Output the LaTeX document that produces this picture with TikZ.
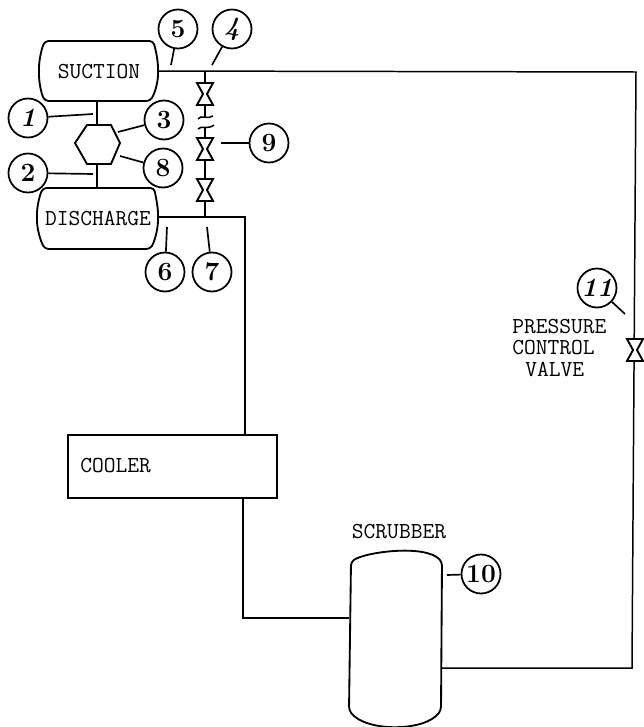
\documentclass[tikz,border=0pt]{standalone}
\usepackage{tikz}
\usetikzlibrary{calc}

\tikzset{
    pipe/.style={line width=0.85pt},
    leader/.style={line width=0.95pt},
    vessel/.style={line width=1.05pt},
    tag/.style={circle,draw,line width=1pt,minimum size=0.78cm,inner sep=0pt,font=\bfseries\fontsize{15}{15}\selectfont},
    label/.style={font=\ttfamily\fontsize{13}{13}\selectfont,inner sep=0pt},
    pics/flowvalve/.style={code={
        \draw[line width=1.1pt,fill=white] (-8,-11) -- (8,-11) -- (2,0) -- (8,11) -- (-8,11) -- (-2,0) -- cycle;
    }}
}

\begin{document}
\begin{tikzpicture}[x=0.02cm,y=-0.02cm]
    \useasboundingbox (0,0) rectangle (644,727);
    % Pipe corners and junctions, in pixels of the sheet (y runs downwards)
    \coordinate (SucOut) at (158,71);
    \coordinate (TopJoin) at (205,71);
    \coordinate (TopCorner) at (636,72);
    \coordinate (RetCorner) at (632,668);
    \coordinate (ScrubOut) at (441,668);
    \coordinate (DisOut) at (158,217);
    \coordinate (LowJoin) at (205,217);
    \coordinate (DisCorner) at (245,217);
    \coordinate (CoolIn) at (245,435);
    \coordinate (CoolOut) at (243,498);
    \coordinate (ScrubCorner) at (243,618);
    \coordinate (ScrubIn) at (349,618);
    \coordinate (BreakA) at (205,117);
    \coordinate (BreakB) at (205,128);
    \coordinate (CompTop) at (97,125);
    \coordinate (CompBot) at (97,164);
    \coordinate (SucBot) at (97,101);
    \coordinate (DisTop) at (97,188);
    % Suction and discharge drums
    \draw[vessel,rounded corners=2pt] (99,41) -- (153,41) .. controls (156,50) and (158,62) .. (158,71)
        .. controls (158,82) and (155,93) .. (150,101) -- (45,101)
        .. controls (41,93) and (39,82) .. (39,71) .. controls (39,62) and (41,50) .. (45,41) -- cycle;
    \draw[vessel,rounded corners=2pt] (99,188) -- (154,188) .. controls (156,197) and (158,208) .. (158,217)
        .. controls (158,228) and (155,241) .. (150,249) -- (45,249)
        .. controls (40,240) and (37,228) .. (37,217) .. controls (37,208) and (39,197) .. (43,188) -- cycle;
    \node[label] (suction) at (99,72) {SUCTION};
    \node[label] (discharge) at (98,218) {DISCHARGE};
    % Compressor
    \draw[vessel] (75,143) -- (87,125) -- (111,125) -- (120,143) -- (111,164) -- (87,164) -- cycle;
    \draw[vessel] (SucBot) -- (CompTop);
    \draw[vessel] (CompBot) -- (DisTop);
    % Main loop
    \draw[pipe] (SucOut) -- (TopCorner) -- (RetCorner) -- (ScrubOut);
    \draw[pipe] (DisOut) -- (DisCorner) -- (CoolIn);
    \draw[pipe] (CoolOut) -- (ScrubCorner) -- (ScrubIn);
    % Bypass with its break
    \draw[pipe] (TopJoin) -- (BreakA);
    \draw[pipe] (BreakB) -- (LowJoin);
    \draw[pipe] (198,119) .. controls (201,114) and (208,120) .. (213,116);
    \draw[pipe] (198,129) .. controls (201,125) and (208,130) .. (214,125);
    \foreach \valvey in {94,149,190}
        \pic at (205,\valvey) {flowvalve};
    \pic at (635,350) {flowvalve};
    % Cooler and scrubber
    \draw[vessel] (68,435) rectangle (277,498);
    \node[label,anchor=west] (cooler) at (80,466) {COOLER};
    \draw[vessel,rounded corners=2pt] (351,562) .. controls (365,552) and (425,544) .. (442,562) -- (441,710)
        .. controls (425,732) and (365,732) .. (349,710) -- cycle;
    \node[label] (scrubber) at (399,532) {SCRUBBER};
    \node[label,anchor=west] (pressure) at (512,327) {PRESSURE};
    \node[label,anchor=west] (control) at (512,348) {CONTROL};
    \node[label,anchor=west] (valve) at (525,369) {VALVE};
    % Numbered tags
    \node[tag] (t1) at (28,118) {\itshape 1};
    \node[tag] (t2) at (28,173) {2};
    \node[tag] (t3) at (164,120) {3};
    \node[tag] (t4) at (232,29) {\itshape 4};
    \node[tag] (t5) at (178,29) {5};
    \node[tag] (t6) at (165,272) {6};
    \node[tag] (t7) at (212,272) {7};
    \node[tag] (t8) at (163,168) {8};
    \node[tag] (t9) at (269,143) {9};
    \node[tag] (t10) at (481,574) {10};
    \node[tag] (t11) at (597,288) {\itshape 11};
    % Leaders from the tags
    \coordinate (p1) at (93,114);
    \coordinate (p2) at (93,174);
    \coordinate (p3) at (118,132);
    \coordinate (p4) at (212,65);
    \coordinate (p5) at (171,65);
    \coordinate (p6) at (167,227);
    \coordinate (p7) at (207,227);
    \coordinate (p8) at (120,156);
    \coordinate (p9) at (221,143);
    \coordinate (p10) at (447,575);
    \coordinate (p11) at (625,314);
    \foreach \tagnum in {1,...,11}
        \draw[leader] (t\tagnum) -- (p\tagnum);
\end{tikzpicture}
\end{document}
